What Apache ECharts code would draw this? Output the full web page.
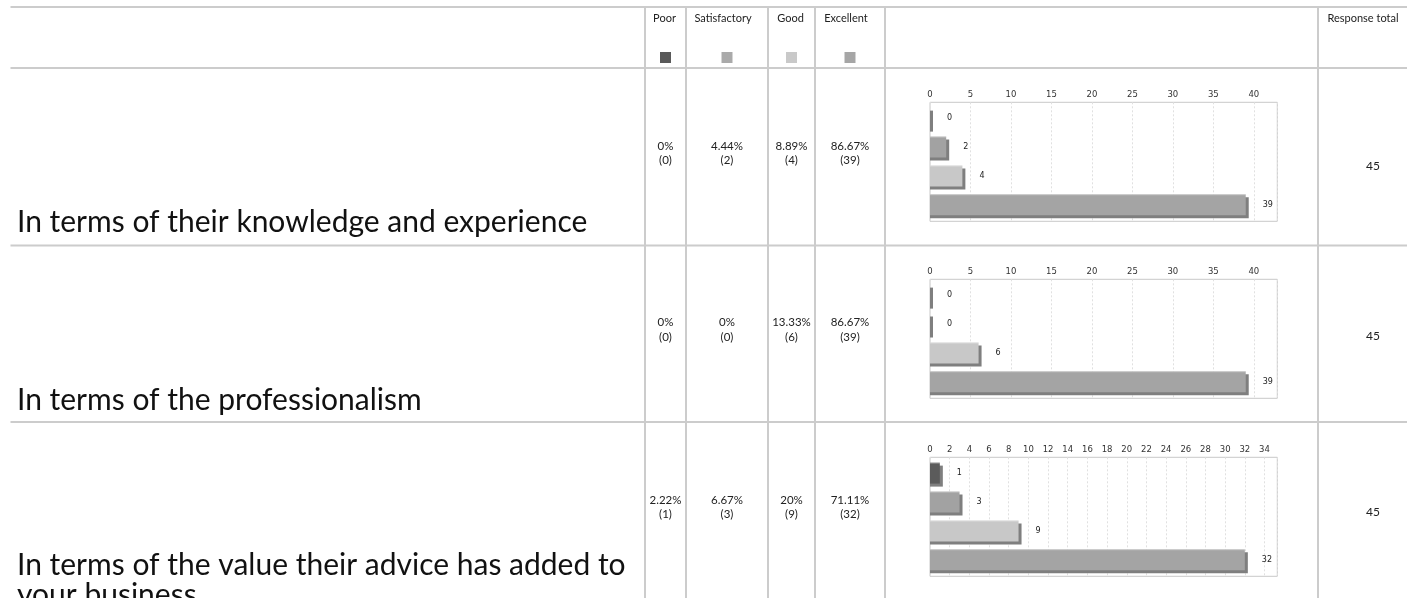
<!DOCTYPE html>
<html><head><meta charset="utf-8">
<script src="https://cdn.jsdelivr.net/npm/echarts@6/dist/echarts.min.js"></script>
<style>html,body{margin:0;padding:0;background:#fff;overflow:hidden}#c{width:1407px;height:598px}</style>
</head><body><div id="c"></div>
<script>
// ---- data ----
const ratings = ['Poor', 'Satisfactory', 'Good', 'Excellent'];
const questions = [
  'In terms of their knowledge and experience',
  'In terms of the professionalism',
  'In terms of the value their advice has added to your business'
];
const counts1 = [0, 2, 4, 39];
const counts2 = [0, 0, 6, 39];
const counts3 = [1, 3, 9, 32];
const percents1 = ['0%', '4.44%', '8.89%', '86.67%'];
const percents2 = ['0%', '0%', '13.33%', '86.67%'];
const percents3 = ['2.22%', '6.67%', '20%', '71.11%'];
const responseTotals = [45, 45, 45];
const axisMax = [42.9, 42.9, 35.3];
const axisInterval = [5, 5, 2];
const headerTotal = 'Response total';

// ---- styles ----
const barColors = ['#5b5b5b', '#a2a2a2', '#c8c8c8', '#a4a4a4'];
const swatchColors = ['#595959', '#aaaaaa', '#c9c9c9', '#a6a6a6'];
const shadowColor = '#7f7f7f';
const lineColor = '#cccccc';
const tableFont = 'Lato, "Open Sans", sans-serif';

const allCounts = [counts1, counts2, counts3];
const allPercents = [percents1, percents2, percents3];

const rowLines = [7, 68, 245.5, 422];
const colLines = [645, 686, 768, 815, 885, 1318];
const colCenters = [665.5, 727, 791.5, 850];
const headerTextX = [664.5, 723, 790.5, 846];
const gridTops = [102.3, 279.3, 457.3];
const qLineH = 30;
const questionY = [222 - qLineH / 2, 400 - qLineH / 2, 565 - qLineH / 2];
const pctY = [146, 322.5, 500];
const totalY = [166, 336, 512];

const graphics = [];
rowLines.forEach(y => graphics.push({type: 'line', silent: true, shape: {x1: 10.5, y1: y, x2: 1407, y2: y}, style: {stroke: lineColor, lineWidth: 2}}));
colLines.forEach(x => graphics.push({type: 'line', silent: true, shape: {x1: x, y1: 7, x2: x, y2: 598}, style: {stroke: lineColor, lineWidth: 2}}));
ratings.forEach((r, i) => {
  graphics.push({type: 'text', silent: true, style: {text: r, x: headerTextX[i], y: 18.5, align: 'center', verticalAlign: 'middle', font: '11px ' + tableFont, fill: '#222'}});
  graphics.push({type: 'rect', silent: true, shape: {x: colCenters[i] - 5.5, y: 52, width: 11, height: 11}, style: {fill: swatchColors[i]}});
});
graphics.push({type: 'text', silent: true, style: {text: headerTotal, x: 1363, y: 18.5, align: 'center', verticalAlign: 'middle', font: '11px ' + tableFont, fill: '#222'}});
questions.forEach((q, r) => {
  graphics.push({type: 'text', silent: true, style: {text: q, x: 17, y: questionY[r], width: 625, overflow: 'break', lineHeight: qLineH, align: 'left', verticalAlign: 'top', font: '30px ' + tableFont, fill: '#111'}});
  allPercents[r].forEach((p, i) => {
    graphics.push({type: 'text', silent: true, style: {text: p + '\n(' + allCounts[r][i] + ')', x: colCenters[i], y: pctY[r] - 7.25, lineHeight: 14.5, align: 'center', verticalAlign: 'top', font: '11.5px ' + tableFont, fill: '#222'}});
  });
  graphics.push({type: 'text', silent: true, style: {text: String(responseTotals[r]), x: 1373, y: totalY[r], align: 'center', verticalAlign: 'middle', font: '12px ' + tableFont, fill: '#222'}});
});

function makeRender() {
  return function (params, api) {
    const v = api.value(0), idx = api.value(1);
    const base = api.coord([0, idx]);
    const end = api.coord([v, idx]);
    const h = 21, sx = 3, sy = 3;
    const y = base[1] - h / 2;
    const w = end[0] - base[0];
    return {type: 'group', children: [
      {type: 'rect', shape: {x: base[0], y: y + sy, width: w + sx, height: h}, style: {fill: shadowColor}},
      {type: 'rect', shape: {x: base[0], y: y, width: w, height: h}, style: {fill: barColors[idx]}},
      {type: 'rect', shape: {x: base[0], y: y, width: w, height: 1}, style: {fill: 'rgba(255,255,255,0.35)'}},
      {type: 'text', style: {text: String(v), x: end[0] + sx + 14, y: base[1], align: 'left', verticalAlign: 'middle', font: '8px "DejaVu Sans"', fill: '#222'}}
    ]};
  };
}

const grid = [], xAxis = [], yAxis = [], series = [];
for (let r = 0; r < 3; r++) {
  grid.push({left: 930, top: gridTops[r], width: 347.3, height: 119, show: true, borderColor: '#c8c8c8', borderWidth: 1, backgroundColor: '#fff'});
  const iv = axisInterval[r];
  xAxis.push({gridIndex: r, type: 'value', position: 'top', min: 0, max: axisMax[r], interval: iv,
    axisLine: {show: false}, axisTick: {show: false},
    axisLabel: {margin: 3, fontSize: 8.5, color: '#333', fontFamily: 'DejaVu Sans', showMaxLabel: false,
      formatter: v => (Math.abs(v / iv - Math.round(v / iv)) < 1e-6 ? String(v) : '')},
    splitLine: {show: true, lineStyle: {color: '#e0e0e0', type: [2, 2], width: 1}}});
  yAxis.push({gridIndex: r, type: 'value', inverse: true, min: -0.547, max: 3.571, show: false});
  series.push({type: 'custom', xAxisIndex: r, yAxisIndex: r, renderItem: makeRender(), clip: false,
    data: allCounts[r].map((c, i) => [c, i]), encode: {x: 0, y: 1}, silent: true});
}

const chart = echarts.init(document.getElementById('c'), null, {renderer: 'canvas'});
chart.setOption({animation: false, backgroundColor: '#fff', grid, xAxis, yAxis, series, graphic: graphics});
</script></body></html>
